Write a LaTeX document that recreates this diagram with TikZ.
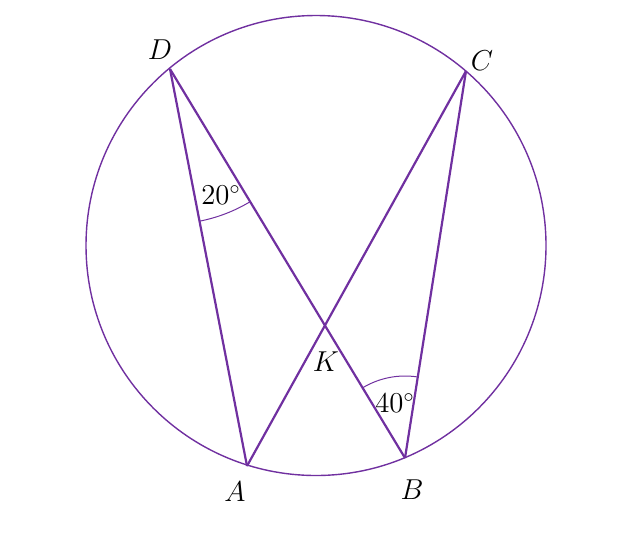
\documentclass[tikz,border=0pt]{standalone}
\usepackage{amsmath}
\usepackage{amssymb}
\usepackage{tikz}
\usetikzlibrary{calc,positioning,angles}
\definecolor{geopurple}{HTML}{7030A0}
\tikzset{
  chord/.style={draw=geopurple, line width=1.1pt},
  rim/.style={draw=geopurple, line width=0.7pt},
  anglemark/.style={draw=geopurple, line width=0.5pt},
  ptlabel/.style={inner sep=0pt, font=\Large}
}
\begin{document}
\begin{tikzpicture}[x=0.5pt,y=-0.5pt]
                  \useasboundingbox (0,0) rectangle (619,552);
                  \coordinate (O) at (316,245.5);
                  \coordinate (D) at (170,69);
                  \coordinate (C) at (466,71);
                  \coordinate (A) at (247,466);
                  \coordinate (B) at (405,458);
                  \coordinate (K) at (325,326);
                  \draw[rim] (O) circle (230);
                  % chords
                  \draw[chord] (D) -- (A);
                  \draw[chord] (D) -- (B);
                  \draw[chord] (A) -- (C);
                  \draw[chord] (C) -- (B);
                  % angle marks
                  \pic[anglemark, angle radius=77.5pt] {angle = A--D--B};
                  \pic[anglemark, angle radius=41pt] {angle = C--B--D};
                  \node[ptlabel] (lD) at (160,50) {$D$};
                  \node[ptlabel] (lC) at (482,61) {$C$};
                  \node[ptlabel] (lA) at (235,492) {$A$};
                  \node[ptlabel] (lB) at (412,490) {$B$};
                  \node[ptlabel] (lK) at (326,362) {$K$};
                  \node[ptlabel] (a20) at (221,195) {$20^\circ$};
                  \node[ptlabel] (a40) at (395,403) {$40^\circ$};
              \end{tikzpicture}
\end{document}
